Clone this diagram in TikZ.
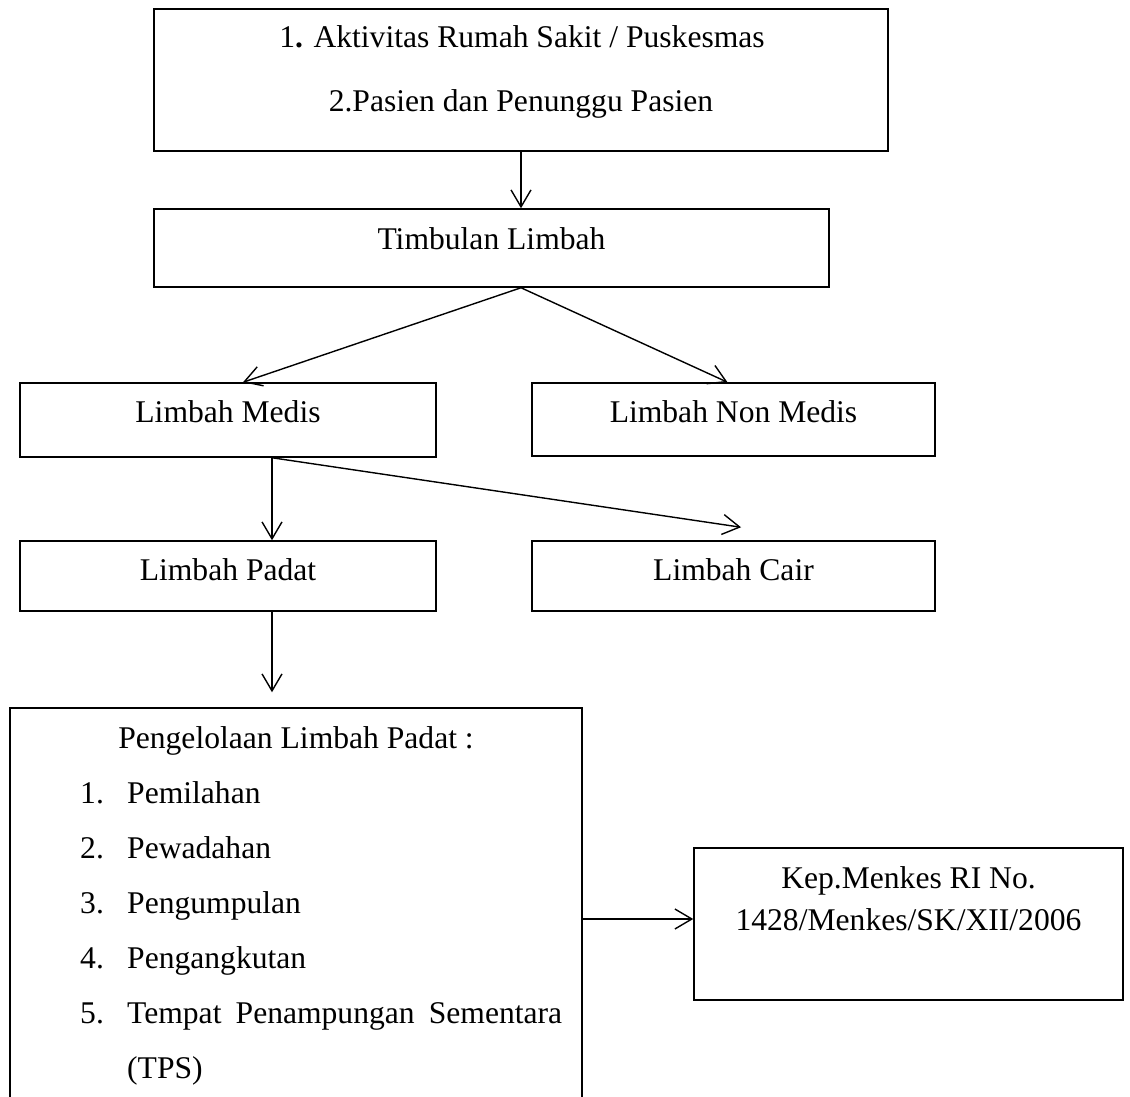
\documentclass[tikz,border=0pt]{standalone}
\usepackage{fontspec}
\setmainfont{Liberation Serif}
\usetikzlibrary{arrows.meta}
\begin{document}
\begin{tikzpicture}[x=1pt,y=-1pt,
  box/.style={draw=black, line width=1.5pt, rectangle, inner sep=0pt},
  txt/.style={inner sep=0pt, anchor=base, font=\fontsize{31.6pt}{38pt}\selectfont},
  txtl/.style={txt, anchor=base west},
  arr/.style={line width=1.4pt, -{Straight Barb[length=17pt,width=20pt,line width=1.4pt]}}]
\useasboundingbox (0,0) rectangle (1130,1097);
\clip (0,0) rectangle (1130,1097);
\fill[white] (0,0) rectangle (1130,1097);
% boxes
\node[box, minimum width=734pt, minimum height=142pt] (top) at (521,80) {};
\node[box, minimum width=675pt, minimum height=78pt] (timb) at (491.5,248) {};
\node[box, minimum width=416pt, minimum height=74pt] (medis) at (228,420) {};
\node[box, minimum width=403pt, minimum height=73pt] (nonmedis) at (733.5,419.5) {};
\node[box, minimum width=416pt, minimum height=70pt] (padat) at (228,576) {};
\node[box, minimum width=403pt, minimum height=70pt] (cair) at (733.5,576) {};
\node[box, minimum width=572pt, minimum height=402pt] (peng) at (296,909) {};
\node[box, minimum width=429pt, minimum height=152pt] (kep) at (908.5,924) {};
% texts
\node[txt] (t1) at (522,48) {1\textbf{.} Aktivitas Rumah Sakit / Puskesmas};
\node[txt] (t2) at (521,112) {2.Pasien dan Penunggu Pasien};
\node[txt] (ttimb) at (491.5,249) {Timbulan Limbah};
\node[txt] (tmedis) at (228,422) {Limbah Medis};
\node[txt] (tnonmedis) at (733.5,422) {Limbah Non Medis};
\node[txt] (tpadat) at (228,580) {Limbah Padat};
\node[txt] (tcair) at (733.5,580) {Limbah Cair};
\node[txt] (thead) at (296,748) {Pengelolaan Limbah Padat :};
\node[txtl] (n1) at (80,803) {1.};
\node[txtl] (i1) at (127,803) {Pemilahan};
\node[txtl] (n2) at (80,858) {2.};
\node[txtl] (i2) at (127,858) {Pewadahan};
\node[txtl] (n3) at (80,913) {3.};
\node[txtl] (i3) at (127,913) {Pengumpulan};
\node[txtl] (n4) at (80,968) {4.};
\node[txtl] (i4) at (127,968) {Pengangkutan};
\node[txtl] (n5) at (80,1023) {5.};
\node[txtl] (i5) at (127,1023) {\makebox[435pt][s]{Tempat Penampungan Sementara}};
\node[txtl] (i6) at (127,1078) {(TPS)};
\node[txt] (k1) at (908.5,888) {Kep.Menkes RI No.};
\node[txt] (k2) at (908.5,930) {1428/Menkes/SK/XII/2006};
% connectors
\draw[arr] (top.south) -- (top.south |- timb.north);
\coordinate (split) at (timb.south -| top.south);
\draw[arr] (split) -- ([xshift=15pt]medis.north);
\draw[arr] (split) -- ([xshift=-6pt]nonmedis.north);
\coordinate (msplit) at ([xshift=44pt]medis.south);
\draw[arr] (msplit) -- ([xshift=44pt]padat.north);
\draw[arr] (msplit) -- ([xshift=7.5pt,yshift=13pt]cair.north);
\coordinate (ptip) at ([xshift=-24pt,yshift=15pt]peng.north);
\draw[arr] ([xshift=44pt]padat.south) -- (ptip);
\coordinate (ka) at ([yshift=5pt]kep.west);
\draw[arr] (peng.east |- ka) -- (ka);
\end{tikzpicture}
\end{document}
